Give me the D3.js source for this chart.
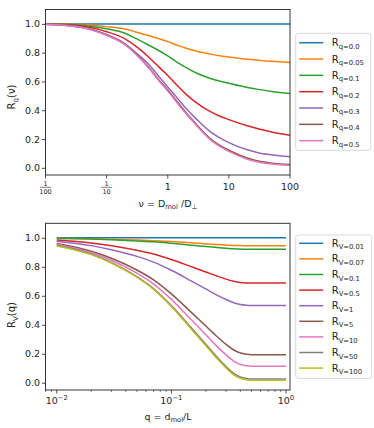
<!DOCTYPE html>
<html>
<head>
<meta charset="utf-8">
<script src="https://cdn.jsdelivr.net/npm/d3@7"></script>
<style>
  body { margin: 0; background: #fff; }
  text { font-family: "DejaVu Sans", sans-serif; fill: #262626; }
</style>
</head>
<body>
<svg id="chart" width="374" height="428"></svg>
<script>
// top panel: R_q(nu) against nu
var nuGrid = [0.01, 0.02, 0.05, 0.1, 0.2, 0.3, 0.5, 0.7, 1, 1.5, 2, 3, 5, 7, 10, 20, 30, 50, 100];
var qLabels = ["0.0", "0.05", "0.1", "0.2", "0.3", "0.4", "0.5"];
var rq00 = [1, 1, 1, 1, 1, 1, 1, 1, 1, 1, 1, 1, 1, 1, 1, 1, 1, 1, 1];
var rq005 = [1.0, 0.998, 0.992, 0.981, 0.964, 0.944, 0.917, 0.898, 0.877, 0.849, 0.831, 0.81, 0.79, 0.779, 0.77, 0.755, 0.748, 0.74, 0.732];
var rq01 = [0.999, 0.997, 0.986, 0.966, 0.935, 0.899, 0.85, 0.817, 0.778, 0.727, 0.696, 0.657, 0.621, 0.603, 0.587, 0.558, 0.545, 0.531, 0.517];
var rq02 = [0.998, 0.995, 0.978, 0.946, 0.896, 0.845, 0.765, 0.705, 0.642, 0.563, 0.51, 0.45, 0.39, 0.36, 0.335, 0.292, 0.271, 0.249, 0.226];
var rq03 = [0.998, 0.992, 0.968, 0.926, 0.862, 0.8, 0.715, 0.64, 0.562, 0.475, 0.412, 0.335, 0.25, 0.21, 0.175, 0.125, 0.105, 0.09, 0.076];
var rq04 = [0.998, 0.991, 0.966, 0.923, 0.858, 0.794, 0.693, 0.616, 0.54, 0.448, 0.383, 0.298, 0.202, 0.158, 0.122, 0.068, 0.047, 0.032, 0.023];
var rq05 = [0.998, 0.99, 0.965, 0.921, 0.855, 0.79, 0.688, 0.61, 0.533, 0.44, 0.375, 0.29, 0.194, 0.15, 0.114, 0.06, 0.04, 0.026, 0.017];
var rqSeries = [rq00, rq005, rq01, rq02, rq03, rq04, rq05];

// bottom panel: R_nu(q) against q
var qGrid = [0.01, 0.02, 0.03, 0.05, 0.07, 0.1, 0.15, 0.2, 0.25, 0.3, 0.35, 0.4, 0.45, 0.5, 0.7, 1.0];
var nuLabels = ["0.01", "0.07", "0.1", "0.5", "1", "5", "10", "50", "100"];
var rv001 = [1, 1, 1, 1, 1, 1, 1, 1, 1, 1, 1, 1, 1, 1, 1, 1];
var rv007 = [0.997, 0.994, 0.99, 0.985, 0.98, 0.974, 0.965, 0.958, 0.954, 0.95, 0.947, 0.946, 0.945, 0.945, 0.945, 0.945];
var rv01 = [0.996, 0.991, 0.986, 0.978, 0.972, 0.962, 0.949, 0.94, 0.933, 0.928, 0.924, 0.922, 0.921, 0.921, 0.921, 0.921];
var rv05 = [0.984, 0.964, 0.945, 0.914, 0.888, 0.85, 0.8, 0.764, 0.736, 0.715, 0.7, 0.692, 0.689, 0.688, 0.688, 0.688];
var rv1 = [0.977, 0.946, 0.918, 0.872, 0.832, 0.776, 0.701, 0.647, 0.605, 0.574, 0.552, 0.54, 0.535, 0.533, 0.533, 0.533];
var rv5 = [0.96, 0.907, 0.859, 0.778, 0.71, 0.613, 0.484, 0.391, 0.319, 0.265, 0.226, 0.205, 0.197, 0.194, 0.194, 0.194];
var rv10 = [0.956, 0.898, 0.845, 0.756, 0.681, 0.575, 0.433, 0.331, 0.251, 0.192, 0.149, 0.126, 0.118, 0.114, 0.114, 0.114];
var rv50 = [0.948, 0.888, 0.83, 0.732, 0.649, 0.532, 0.377, 0.265, 0.177, 0.112, 0.065, 0.04, 0.03, 0.026, 0.026, 0.026];
var rv100 = [0.944, 0.884, 0.826, 0.728, 0.644, 0.526, 0.368, 0.256, 0.168, 0.102, 0.055, 0.031, 0.021, 0.017, 0.017, 0.017];
var rvSeries = [rv001, rv007, rv01, rv05, rv1, rv5, rv10, rv50, rv100];

var yTicks = [0, 0.2, 0.4, 0.6, 0.8, 1.0];
var topXTicks = [0.01, 0.1, 1, 10, 100];
var topXLabels = [["1", "100"], ["1", "10"], "1", "10", "100"];
var bottomXTicks = [0.01, 0.1, 1];
var bottomXExp = ["\u22122", "\u22121", "0"];

var colors = ["#1f77b4", "#ff7f0e", "#2ca02c", "#d62728", "#9467bd", "#8c564b", "#e377c2", "#7f7f7f", "#bcbd22"];

var svg = d3.select("#chart");

function panel(box, xDomain, xs, series, legendRows) {
  var x = d3.scaleLog().domain(xDomain).range([box.left, box.right]);
  var y = d3.scaleLinear().domain([-0.05, 1.1]).range([box.bottom, box.top]);
  var g = svg.append("g");

  var line = d3.line()
      .x(function(d) { return x(d[0]); })
      .y(function(d) { return y(d[1]); })
      .curve(d3.curveMonotoneX);

  g.append("clipPath").attr("id", "clip" + Math.round(box.top))
    .append("rect")
      .attr("x", box.left).attr("y", box.top)
      .attr("width", box.right - box.left).attr("height", box.bottom - box.top);

  g.append("g").attr("clip-path", "url(#clip" + Math.round(box.top) + ")")
    .selectAll("path")
    .data(series)
    .enter().append("path")
      .attr("d", function(s) { return line(s.map(function(v, i) { return [xs[i], v]; })); })
      .attr("fill", "none")
      .attr("stroke", function(s, i) { return colors[i]; })
      .attr("stroke-width", 1.5);

  g.append("rect")
      .attr("x", box.left).attr("y", box.top)
      .attr("width", box.right - box.left).attr("height", box.bottom - box.top)
      .attr("fill", "none").attr("stroke", "#222").attr("stroke-width", 0.9);

  var yAxis = g.append("g")
      .attr("transform", "translate(" + box.left + ",0)")
      .call(d3.axisLeft(y).tickValues(yTicks).tickSize(3.5).tickPadding(2).tickFormat(d3.format(".1f")));
  yAxis.select(".domain").remove();
  yAxis.selectAll("text").attr("font-size", 9.5).attr("font-family", "DejaVu Sans").attr("fill", "#262626");
  yAxis.selectAll("line").attr("stroke", "#222").attr("stroke-width", 0.8);

  // legend
  var lg = g.append("g");
  lg.append("rect")
      .attr("x", box.legX).attr("y", box.legTop)
      .attr("width", box.legW).attr("height", box.legH)
      .attr("rx", 2.5)
      .attr("fill", "#fff").attr("fill-opacity", 0.8)
      .attr("stroke", "#d0d0d0").attr("stroke-width", 0.8);
  var rows = lg.selectAll(".row")
      .data(legendRows)
      .enter().append("g")
      .attr("class", "row")
      .attr("transform", function(d, i) { return "translate(0," + (box.legRow0 + i * box.legStep) + ")"; });
  rows.append("line")
      .attr("x1", box.legX + 3.5).attr("x2", box.legX + 27.5)
      .attr("stroke", function(d, i) { return colors[i]; })
      .attr("stroke-width", 1.5);
  var t = rows.append("text")
      .attr("x", box.legX + 36).attr("y", 3.5)
      .attr("font-size", 10);
  t.append("tspan").text("R");
  t.append("tspan").attr("font-size", 6.8).attr("dy", 2.6).text(function(d) { return d; });

  return {x: x, y: y, g: g};
}

// ---- top panel ----
var topBox = {left: 45.5, right: 290, top: 9.5, bottom: 175,
  legX: 295.7, legTop: 33.3, legW: 75, legH: 117, legRow0: 42.7, legStep: 16.33};
var upper = panel(topBox, [0.01, 100], nuGrid, rqSeries,
  qLabels.map(function(q) { return "q=" + q; }));

var tx = upper.g.selectAll(".xt")
    .data(topXTicks)
    .enter().append("g")
    .attr("class", "xt")
    .attr("transform", function(d) { return "translate(" + upper.x(d) + "," + topBox.bottom + ")"; });
tx.append("line").attr("y2", 3.5).attr("stroke", "#222").attr("stroke-width", 0.8);
tx.each(function(d, i) {
  var lab = topXLabels[i], s = d3.select(this);
  if (Array.isArray(lab)) {
    s.append("text").attr("y", 10.5).attr("text-anchor", "middle").attr("font-size", 6.5).text(lab[0]);
    s.append("line").attr("x1", -5.5).attr("x2", 5.5).attr("y1", 12.3).attr("y2", 12.3)
      .attr("stroke", "#262626").attr("stroke-width", 0.6);
    s.append("text").attr("y", 18.5).attr("text-anchor", "middle").attr("font-size", 6.5).text(lab[1]);
  } else {
    s.append("text").attr("y", 15).attr("text-anchor", "middle").attr("font-size", 9.5).text(lab);
  }
});

var xl1 = upper.g.append("text").attr("x", 168).attr("y", 207).attr("text-anchor", "middle").attr("font-size", 9.5);
xl1.append("tspan").text("\u03bd =  D");
xl1.append("tspan").attr("font-size", 6.8).attr("dy", 2).text("mol");
xl1.append("tspan").attr("dy", -2).text(" /D");
xl1.append("tspan").attr("font-size", 6.8).attr("dy", 2).text("\u22a5");

var yl1 = upper.g.append("text").attr("transform", "translate(15,97) rotate(-90)")
    .attr("text-anchor", "middle").attr("font-size", 10);
yl1.append("tspan").text("R");
yl1.append("tspan").attr("font-size", 7).attr("dy", 2.5).text("q");
yl1.append("tspan").attr("dy", -2.5).text("(\u03bd)");

// ---- bottom panel ----
var botBox = {left: 45.5, right: 290, top: 223.3, bottom: 390,
  legX: 295.7, legTop: 235, legW: 76, legH: 143.3, legRow0: 243.3, legStep: 15.6};
var lower = panel(botBox, [Math.pow(10, -2.098), Math.pow(10, 0.035)], qGrid, rvSeries,
  nuLabels.map(function(v) { return "V=" + v; }));

var minor = [];
[0.001, 0.01, 0.1].forEach(function(p) {
  for (var k = 2; k <= 9; k++) minor.push(p * k);
});
minor = minor.filter(function(v) { return v >= lower.x.domain()[0] && v <= lower.x.domain()[1]; });
lower.g.selectAll(".mt").data(minor).enter().append("line")
    .attr("x1", function(d) { return lower.x(d); }).attr("x2", function(d) { return lower.x(d); })
    .attr("y1", botBox.bottom).attr("y2", botBox.bottom + 2)
    .attr("stroke", "#222").attr("stroke-width", 0.6);

var bx = lower.g.selectAll(".xt")
    .data(bottomXTicks)
    .enter().append("g")
    .attr("class", "xt")
    .attr("transform", function(d) { return "translate(" + lower.x(d) + "," + botBox.bottom + ")"; });
bx.append("line").attr("y2", 3.5).attr("stroke", "#222").attr("stroke-width", 0.8);
var bt = bx.append("text").attr("y", 13.5).attr("text-anchor", "middle").attr("font-size", 9.5);
bt.append("tspan").text("10");
bt.append("tspan").attr("font-size", 6.8).attr("dy", -4).text(function(d, i) { return bottomXExp[i]; });

var xl2 = lower.g.append("text").attr("x", 168).attr("y", 420).attr("text-anchor", "middle").attr("font-size", 9.5);
xl2.append("tspan").text("q =  d");
xl2.append("tspan").attr("font-size", 6.8).attr("dy", 2).text("mol");
xl2.append("tspan").attr("dy", -2).text("/L");

var yl2 = lower.g.append("text").attr("transform", "translate(15,315) rotate(-90)")
    .attr("text-anchor", "middle").attr("font-size", 10);
yl2.append("tspan").text("R");
yl2.append("tspan").attr("font-size", 7).attr("dy", 2.5).text("V");
yl2.append("tspan").attr("dy", -2.5).text("(q)");
</script>
</body>
</html>
